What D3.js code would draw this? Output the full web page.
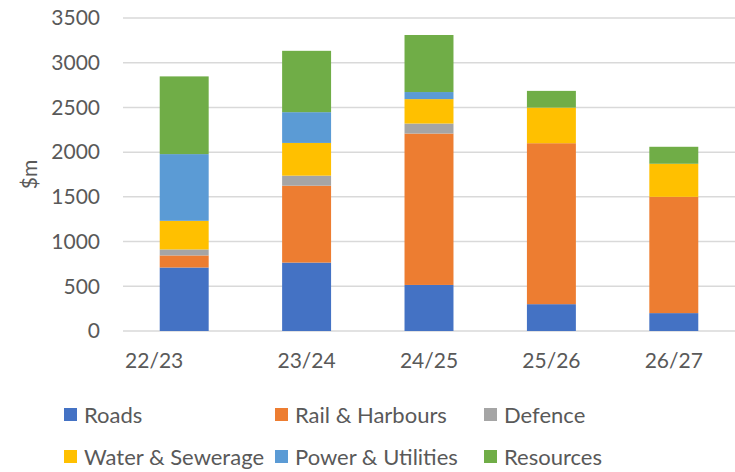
<!DOCTYPE html>
<html>
<head>
<meta charset="utf-8">
<script src="https://cdn.jsdelivr.net/npm/d3@7"></script>
<style>
  body { margin: 0; background: #fff; }
  text { font-family: Lato, "Open Sans", sans-serif; fill: #595959; }
</style>
</head>
<body>
<div class="chart"></div>
<script>
const years = ['22/23', '23/24', '24/25', '25/26', '26/27'];
const seriesNames = ['Roads', 'Rail & Harbours', 'Defence', 'Water & Sewerage', 'Power & Utilities', 'Resources'];
const roads = [710, 765, 515, 300, 200];
const rail = [135, 860, 1693, 1800, 1300];
const defence = [67, 112, 112, 0, 0];
const water = [320, 366, 273, 398, 370];
const power = [746, 344, 79, 0, 0];
const resources = [869, 686, 638, 187, 190];
const yTicks = [0, 500, 1000, 1500, 2000, 2500, 3000, 3500];
const colors = ['#4472C4', '#ED7D31', '#A5A5A5', '#FFC000', '#5B9BD5', '#70AD47'];

const chartWidth = 735;
const chartHeight = 472;
const margin = { left: 123, right: 0, top: 18, bottom: 141 };

const seriesValues = [roads, rail, defence, water, power, resources];
const rows = years.map((y, i) => {
  const row = { year: y };
  seriesNames.forEach((name, s) => { row[name] = seriesValues[s][i]; });
  return row;
});
const stacked = d3.stack().keys(seriesNames)(rows);

const svg = d3.select('.chart')
  .append('svg')
  .attr('width', chartWidth)
  .attr('height', chartHeight);

const xScale = d3.scaleBand()
  .domain(years)
  .range([margin.left, chartWidth - margin.right])
  .paddingInner(0.6)
  .paddingOuter(0.3);

const yScale = d3.scaleLinear()
  .domain([0, 3500])
  .range([chartHeight - margin.bottom, margin.top]);

// gridlines
svg.append('g')
  .selectAll('line')
  .data(yTicks)
  .enter()
  .append('line')
  .attr('x1', margin.left)
  .attr('x2', chartWidth - margin.right)
  .attr('y1', d => yScale(d))
  .attr('y2', d => yScale(d))
  .attr('stroke', '#d9d9d9')
  .attr('stroke-width', 1.5);

// bars
svg.append('g')
  .selectAll('g')
  .data(stacked)
  .enter()
  .append('g')
  .attr('fill', (d, i) => colors[i])
  .selectAll('rect')
  .data(d => d)
  .enter()
  .append('rect')
  .attr('x', d => xScale(d.data.year))
  .attr('y', d => yScale(d[1]))
  .attr('width', xScale.bandwidth())
  .attr('height', d => yScale(d[0]) - yScale(d[1]));

// y axis
const yAxis = d3.axisLeft(yScale)
  .tickValues(yTicks)
  .tickFormat(d3.format('d'))
  .tickSize(0)
  .tickPadding(23);
const yG = svg.append('g')
  .attr('transform', `translate(${margin.left}, 0)`)
  .call(yAxis);
yG.select('.domain').remove();
yG.selectAll('text')
  .attr('font-size', '21px')
  .attr('font-family', null)
  .attr('fill', '#595959');

// x axis
const xAxis = d3.axisBottom(xScale)
  .tickSize(0)
  .tickPadding(22);
const xG = svg.append('g')
  .attr('transform', `translate(0, ${yScale(0)})`)
  .call(xAxis);
xG.select('.domain').remove();
xG.selectAll('text')
  .attr('font-size', '21px')
  .attr('font-family', null)
  .attr('fill', '#595959')
  .attr('dx', (d, i) => i === 0 ? -30 : 0);

// axis title
svg.append('text')
  .attr('transform', `translate(37, ${(yScale(0) + yScale(3500)) / 2}) rotate(-90)`)
  .attr('text-anchor', 'middle')
  .attr('font-size', '21px')
  .text('$m');

// legend
const legendCols = [64, 275, 484];
const legendRows = [415, 457];
const legend = svg.append('g')
  .selectAll('g')
  .data(seriesNames)
  .enter()
  .append('g')
  .attr('transform', (d, i) => `translate(${legendCols[i % 3]}, ${legendRows[Math.floor(i / 3)]})`);
legend.append('rect')
  .attr('x', 0)
  .attr('y', -7)
  .attr('width', 13)
  .attr('height', 13)
  .attr('fill', (d, i) => colors[i]);
legend.append('text')
  .attr('x', 20)
  .attr('y', 0)
  .attr('dy', '0.35em')
  .attr('font-size', '22px')
  .text(d => d);
</script>
</body>
</html>
